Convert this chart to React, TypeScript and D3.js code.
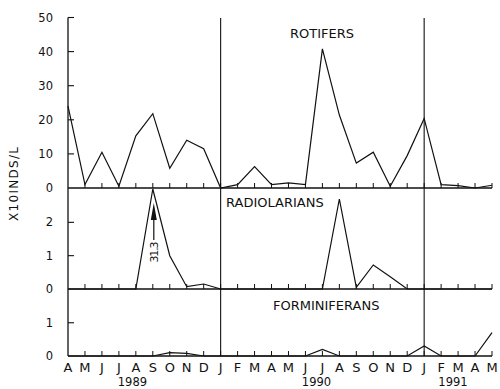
import React from "react";
import * as d3 from "d3";

const months = ["A","M","J","J","A","S","O","N","D","J","F","M","A","M","J","J","A","S","O","N","D","J","F","M","A","M"];
const rotifers = [24,1,10.5,0.5,15.3,21.8,5.8,14,11.5,0,1,6.3,1,1.5,1,40.8,21.4,7.3,10.5,0.5,9.5,20.4,1,0.7,0,0.8];
const radiolarians = [0,0,0,0,0,31.3,1.0,0.07,0.15,0,0,0,0,0,0,0,2.7,0.05,0.72,0.37,0,0,0,0,0,0];
const forminiferans = [0,0,0,0,0,0,0.1,0.08,0,0,0,0,0,0,0,0.2,0,0,0,0,0,0.3,0,0,0,0.7];
const years = ["1989","1990","1991"];
const yearPos = [3.8, 14.65, 22.7];
const yearBreaks = [9, 21];
const rotTicks = [0,10,20,30,40,50];
const radTicks = [0,1,2];
const forTicks = [0,1];

const FONT = "DejaVu Sans, Verdana, sans-serif";

export default function App() {
  const W = 500, H = 389;
  const x = d3.scaleLinear().domain([0, months.length - 1]).range([68, 492]);
  const panels = [
    { name: "ROTIFERS", data: rotifers, y: d3.scaleLinear().domain([0, 50]).range([188, 17.5]).clamp(true), ticks: rotTicks, tx: 290, ty: 38 },
    { name: "RADIOLARIANS", data: radiolarians, y: d3.scaleLinear().domain([0, 3]).range([289, 189]).clamp(true), ticks: radTicks, tx: 226, ty: 207 },
    { name: "FORMINIFERANS", data: forminiferans, y: d3.scaleLinear().domain([0, 2]).range([356, 289.5]).clamp(true), ticks: forTicks, tx: 273, ty: 310 },
  ];
  const stroke = "#111";
  const idx = d3.range(months.length);
  const arrowX = x(5) + 1;

  return (
    <svg width={W} height={H} style={{ position: "absolute", left: 0, top: 0, background: "#fff" }}>
      <rect width={W} height={H} fill="#fff" />
      {/* left axis */}
      <line x1={x(0)} x2={x(0)} y1={17.5} y2={356} stroke={stroke} strokeWidth={1.3} />
      {yearBreaks.map((b) => (
        <line key={b} x1={x(b)} x2={x(b)} y1={18} y2={356} stroke={stroke} strokeWidth={1.1} />
      ))}
      {panels.map((p) => {
        const line = d3.line<number>().x((_, i) => x(i)).y((d) => p.y(d));
        const y0 = p.y(0);
        return (
          <g key={p.name}>
            <line x1={x(0)} x2={x(months.length - 1)} y1={y0} y2={y0} stroke={stroke} strokeWidth={1.4} />
            {idx.slice(1).map((i) => (
              <line key={i} x1={x(i)} x2={x(i)} y1={y0} y2={y0 - 5} stroke={stroke} strokeWidth={1} />
            ))}
            {p.ticks.map((t) => (
              <g key={t}>
                {t > 0 && <line x1={x(0)} x2={x(0) + 6} y1={p.y(t)} y2={p.y(t)} stroke={stroke} strokeWidth={1.1} />}
                <text x={53} y={p.y(t)} dy="0.36em" textAnchor="end" fontFamily={FONT} fontSize={11.5} fill={stroke}>{t}</text>
              </g>
            ))}
            <path d={line(p.data) || ""} fill="none" stroke={stroke} strokeWidth={1.2} strokeLinejoin="miter" />
            <text x={p.tx} y={p.ty} fontFamily={FONT} fontSize={13} fill={stroke}>{p.name}</text>
          </g>
        );
      })}
      {/* arrow for off-scale value */}
      <polygon points={`${arrowX},203 ${arrowX - 3},220 ${arrowX + 3},220`} fill={stroke} />
      <line x1={arrowX} x2={arrowX} y1={218} y2={240} stroke={stroke} strokeWidth={1.2} />
      <text transform={`translate(${arrowX + 4},252) rotate(-90)`} textAnchor="middle" fontFamily={FONT} fontSize={11} textLength={21} fill={stroke}>{radiolarians[5]}</text>
      {/* month labels */}
      {months.map((m, i) => (
        <text key={i} x={x(i)} y={371.5} textAnchor="middle" fontFamily={FONT} fontSize={13} fill={stroke}>{m}</text>
      ))}
      {years.map((yv, i) => (
        <text key={yv} x={x(yearPos[i])} y={385.5} textAnchor="middle" fontFamily={FONT} fontSize={11.5} fill={stroke}>{yv}</text>
      ))}
      <text transform="translate(18,184) rotate(-90)" textAnchor="middle" fontFamily={FONT} fontSize={12} textLength={74} fill={stroke}>X10INDS/L</text>
    </svg>
  );
}
